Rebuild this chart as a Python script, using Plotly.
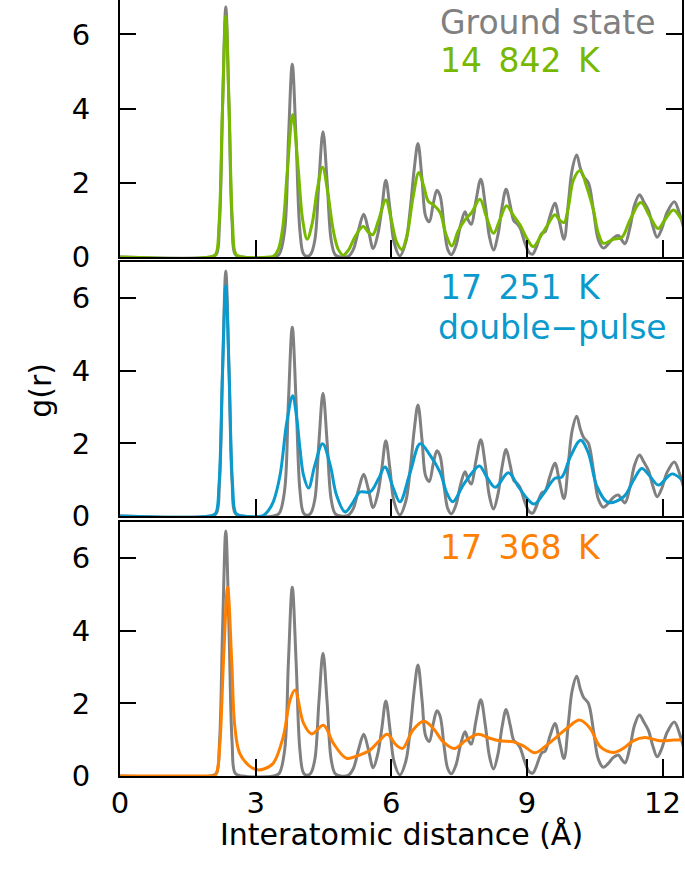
import plotly.graph_objects as go

# ---------------- data ----------------
r_ground = [0, 2.0, 2.13, 2.2, 2.27, 2.34, 2.41, 2.48, 2.55, 2.7, 3.4, 3.52, 3.64, 3.725, 3.81, 3.895, 3.98, 4.06,
            4.14, 4.22, 4.31, 4.40, 4.49, 4.58, 4.67, 4.76, 4.88, 5.05, 5.16, 5.28, 5.39, 5.49, 5.6, 5.7, 5.79, 5.88,
            5.97, 6.06, 6.19, 6.32, 6.42, 6.51, 6.59, 6.68, 6.76, 6.84, 6.93, 7.01, 7.08, 7.17, 7.25, 7.33, 7.43, 7.53,
            7.63, 7.7, 7.77, 7.87, 7.98, 8.08, 8.17, 8.26, 8.36, 8.45, 8.54, 8.63, 8.71, 8.78, 8.85, 8.95, 9.05, 9.13,
            9.2, 9.33, 9.40, 9.51, 9.62, 9.72, 9.82, 9.92, 10.0, 10.1, 10.18, 10.25, 10.36, 10.47, 10.58, 10.69, 10.8,
            10.92, 11.02, 11.1, 11.17, 11.28, 11.38, 11.49, 11.58, 11.69, 11.78, 11.88, 11.98, 12.1, 12.26, 12.38, 12.5]
g_ground = [0, 0, 0.07, 0.91, 4.1, 6.75, 4.1, 0.91, 0.07, 0, 0, 0.07, 0.7, 3.15, 5.2, 3.15, 0.7, 0.08,
            0.02, 0.08, 0.46, 2.05, 3.38, 2.05, 0.46, 0.06, 0.0, 0.02, 0.2, 0.75, 1.15, 0.75, 0.23, 0.6, 1.3, 2.07,
            1.3, 0.4, 0.03, 0.4, 1.3, 2.4, 3.06, 2.1, 1.1, 0.95, 1.45, 1.8, 1.65, 0.8, 0.2, 0.06, 0.3, 0.85,
            1.22, 1.0, 0.88, 1.5, 2.1, 1.4, 0.55, 0.19, 0.6, 1.35, 1.83, 1.4, 0.98, 0.9, 0.78, 0.4, 0.12, 0.08,
            0.24, 0.64, 0.68, 1.1, 1.45, 0.95, 0.48, 1.5, 2.35, 2.75, 2.4, 2.17, 2.0, 1.27, 0.46, 0.24, 0.35,
            0.52, 0.58, 0.45, 0.36, 0.8, 1.4, 1.68, 1.5, 1.25, 0.85, 0.53, 0.75, 1.2, 1.49, 1.15, 0.62]

r_14842 = [0, 2.0, 2.115, 2.19, 2.265, 2.34, 2.415, 2.49, 2.565, 2.7, 3.3, 3.4, 3.5, 3.6, 3.7, 3.82, 3.94, 4.04,
           4.14, 4.25, 4.36, 4.48, 4.6, 4.72, 4.83, 4.94, 5.06, 5.2, 5.38, 5.5, 5.59, 5.72, 5.88, 6.0, 6.12, 6.23,
           6.35, 6.48, 6.61, 6.72, 6.82, 6.93, 7.08, 7.2, 7.34, 7.48, 7.63, 7.78, 7.96, 8.1, 8.26, 8.4, 8.55, 8.7,
           8.85, 9.0, 9.14, 9.3, 9.45, 9.62, 9.72, 9.82, 9.92, 10.03, 10.18, 10.32, 10.47, 10.58, 10.69, 10.91,
           11.1, 11.28, 11.52, 11.72, 11.9, 12.05, 12.24, 12.4, 12.5]
g_14842 = [0, 0, 0.07, 0.88, 3.95, 6.5, 3.95, 0.88, 0.07, 0, 0, 0.03, 0.2, 0.8, 2.3, 3.84, 2.4, 1.0,
           0.48, 0.9, 1.8, 2.42, 1.7, 0.7, 0.2, 0.05, 0.2, 0.55, 0.82, 0.66, 0.6, 1.0, 1.54, 1.0, 0.4, 0.2,
           0.6, 1.6, 2.28, 1.9, 1.5, 1.41, 1.2, 0.65, 0.3, 0.7, 1.0, 1.2, 1.56, 1.1, 0.64, 1.0, 1.38, 1.12,
           0.86, 0.5, 0.28, 0.55, 0.85, 1.14, 1.0, 0.93, 1.36, 2.08, 2.33, 1.9, 1.27, 0.64, 0.37, 0.48,
           0.53, 1.0, 1.47, 1.09, 0.77, 1.0, 1.27, 1.05, 0.86]

r_17251 = [0, 2.0, 2.115, 2.19, 2.265, 2.34, 2.415, 2.49, 2.565, 2.7, 3.15, 3.25, 3.39, 3.54, 3.69, 3.82, 3.91,
           3.98, 4.06, 4.17, 4.31, 4.48, 4.65, 4.79, 4.98, 5.16, 5.31, 5.53, 5.72, 5.86, 6.05, 6.19, 6.42, 6.64,
           6.86, 7.08, 7.23, 7.36, 7.59, 7.78, 7.95, 8.11, 8.3, 8.59, 8.81, 9.0, 9.16, 9.37, 9.62, 9.77, 9.96,
           10.19, 10.36, 10.55, 10.8, 11.14, 11.36, 11.54, 11.73, 11.91, 12.21, 12.5]
g_17251 = [0, 0, 0.07, 0.86, 3.85, 6.35, 3.85, 0.86, 0.07, 0, 0, 0.1, 0.39, 1.12, 2.59, 3.31, 2.68,
           1.86, 1.12, 0.77, 1.4, 1.99, 1.4, 0.57, 0.11, 0.39, 0.66, 0.66, 1.03, 1.35, 0.75, 0.39, 1.21, 1.99,
           1.67, 1.2, 0.63, 0.39, 0.85, 1.18, 1.38, 1.08, 0.79, 1.19, 0.81, 0.49, 0.33, 0.62, 1.04, 1.07, 1.63,
           2.09, 1.73, 0.81, 0.37, 0.53, 0.99, 1.31, 1.08, 0.85, 1.16, 0.9]

r_17368 = [0, 2.0, 2.08, 2.14, 2.21, 2.29, 2.38, 2.47, 2.54, 2.65, 2.88, 3.04, 3.2, 3.39, 3.61, 3.76, 3.87, 4.06,
           4.24, 4.5, 4.72, 5.01, 5.30, 5.52, 5.75, 5.91, 6.11, 6.25, 6.48, 6.72, 6.93, 7.15, 7.39, 7.66, 7.92,
           8.18, 8.4, 8.7, 8.92, 9.18, 9.44, 9.66, 9.88, 10.17, 10.4, 10.62, 10.91, 11.13, 11.35, 11.61, 11.94,
           12.24, 12.5]
g_17368 = [0, 0, 0, 0.1, 0.9, 3.2, 5.2, 3.2, 1.36, 0.62, 0.26, 0.17, 0.2, 0.35, 1.08, 2.09, 2.37, 1.45,
           1.16, 1.4, 0.9, 0.49, 0.58, 0.70, 0.99, 1.15, 0.85, 0.76, 1.27, 1.51, 1.31, 0.94, 0.76, 0.99, 1.15,
           1.04, 0.97, 0.94, 0.83, 0.64, 0.85, 1.08, 1.31, 1.54, 1.31, 0.81, 0.65, 0.76, 0.97, 1.06, 0.97,
           0.99, 1.0]

x_ticks = [0, 3, 6, 9, 12]
y_ticks = [0, 2, 4, 6]

GREY = "#808080"
GREEN = "#77b800"
BLUE = "#0a9acd"
ORANGE = "#ff8000"
FONT = "DejaVu Sans"

panels = [
    (r_14842, g_14842, GREEN),
    (r_17251, g_17251, BLUE),
    (r_17368, g_17368, ORANGE),
]

fig = go.Figure()
for i, (rx, gy, col) in enumerate(panels, start=1):
    xa = "x" if i == 1 else f"x{i}"
    ya = "y" if i == 1 else f"y{i}"
    fig.add_trace(go.Scatter(x=r_ground, y=g_ground, mode="lines", xaxis=xa, yaxis=ya,
                             line=dict(color=GREY, width=3, shape="spline", smoothing=1.0),
                             showlegend=False, hoverinfo="skip"))
    fig.add_trace(go.Scatter(x=rx, y=gy, mode="lines", xaxis=xa, yaxis=ya,
                             line=dict(color=col, width=3, shape="spline", smoothing=1.0),
                             showlegend=False, hoverinfo="skip"))

domains = [[0.6688, 1.0], [0.3351, 0.6624], [0.0, 0.3273]]
yranges = [[0, 6.93], [0, 7], [0, 7]]

common_x = dict(range=[0, 12.43], tickvals=x_ticks, ticks="inside", ticklen=17, tickwidth=2,
                tickcolor="black", showline=True, linecolor="black", linewidth=2,
                showgrid=False, zeroline=False, domain=[0, 1],
                tickfont=dict(family=FONT, size=29, color="black"))
common_y = dict(tickvals=y_ticks, ticks="inside", ticklen=16, tickwidth=2, tickcolor="black",
                showline=True, linecolor="black", linewidth=2, mirror="ticks",
                showgrid=False, zeroline=False,
                tickfont=dict(family=FONT, size=29, color="black"), ticklabelstandoff=22)

layout = dict(width=685, height=878, margin=dict(l=120, r=3, t=0, b=102),
              paper_bgcolor="white", plot_bgcolor="white")
for i in range(1, 4):
    xk = "xaxis" if i == 1 else f"xaxis{i}"
    yk = "yaxis" if i == 1 else f"yaxis{i}"
    ya = "y" if i == 1 else f"y{i}"
    xa = "x" if i == 1 else f"x{i}"
    layout[xk] = dict(common_x, anchor=ya, showticklabels=(i == 3), mirror=(i != 1))
    layout[yk] = dict(common_y, anchor=xa, domain=domains[i - 1], range=yranges[i - 1])
fig.update_layout(**layout)

ann_font = dict(family=FONT, size=33)
fig.add_annotation(x=7.04, y=6.33, xref="x", yref="y", text="Ground state", showarrow=False,
                   xanchor="left", yanchor="middle", font=dict(ann_font, color=GREY))
fig.add_annotation(x=7.04, y=5.31, xref="x", yref="y", text="14\u2002842\u2002K", showarrow=False,
                   xanchor="left", yanchor="middle", font=dict(ann_font, color=GREEN))
fig.add_annotation(x=7.04, y=6.31, xref="x2", yref="y2", text="17\u2002251\u2002K", showarrow=False,
                   xanchor="left", yanchor="middle", font=dict(ann_font, color=BLUE))
fig.add_annotation(x=7.0, y=5.2, xref="x2", yref="y2", text="double\u2212pulse", showarrow=False,
                   xanchor="left", yanchor="middle", font=dict(ann_font, color=BLUE))
fig.add_annotation(x=7.04, y=6.31, xref="x3", yref="y3", text="17\u2002368\u2002K", showarrow=False,
                   xanchor="left", yanchor="middle", font=dict(ann_font, color=ORANGE))

fig.add_annotation(x=0.5, y=-0.076, xref="paper", yref="paper", text="Interatomic distance (Å)",
                   showarrow=False, xanchor="center", yanchor="middle",
                   font=dict(family=FONT, size=30, color="black"))
fig.add_annotation(x=-0.1416, y=0.497, xref="paper", yref="paper", text="g(r)", textangle=-90,
                   showarrow=False, xanchor="center", yanchor="middle",
                   font=dict(family=FONT, size=30, color="black"))

fig.write_html("out.html")
